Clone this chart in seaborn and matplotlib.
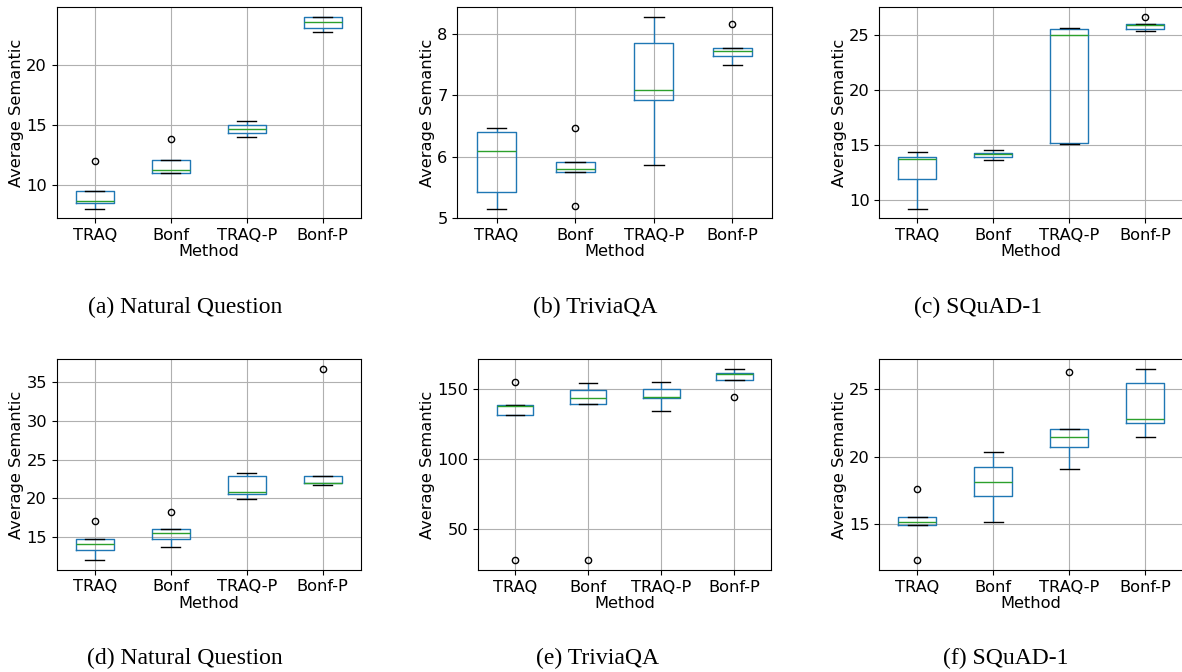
import matplotlib
matplotlib.use('Agg')
import matplotlib.pyplot as plt
import pandas as pd
import seaborn as sns

# methods on the x axis
methods = ['TRAQ', 'Bonf', 'TRAQ-P', 'Bonf-P']

# average semantic set size per run, one list per method (TRAQ, Bonf, TRAQ-P, Bonf-P)
nq_top = [[8.0, 8.5, 8.65, 9.45, 12.0],
          [11.0, 11.02, 11.25, 12.05, 13.8],
          [13.95, 14.3, 14.67, 15.0, 15.3],
          [22.75, 23.1, 23.6, 23.97, 24.0]]
tqa_top = [[5.15, 5.43, 6.09, 6.40, 6.46],
           [5.2, 5.75, 5.79, 5.91, 6.46],
           [5.86, 6.92, 7.08, 7.86, 8.28],
           [7.49, 7.64, 7.72, 7.78, 8.17]]
squad_top = [[9.2, 11.9, 13.72, 13.9, 14.4],
             [13.63, 13.9, 14.2, 14.3, 14.55],
             [15.08, 15.17, 25.0, 25.6, 25.7],
             [25.35, 25.6, 25.9, 26.0, 26.68]]
nq_bot = [[12.0, 13.3, 14.1, 14.65, 17.1],
          [13.67, 14.7, 15.5, 16.05, 18.27],
          [19.87, 20.55, 20.75, 22.93, 23.3],
          [21.75, 21.93, 22.0, 22.93, 36.75]]
tqa_bot = [[27.6, 131.4, 137.3, 138.7, 154.6],
           [27.6, 139.2, 143.2, 149.4, 153.7],
           [133.8, 143.5, 144.0, 150.1, 154.6],
           [144.4, 156.1, 160.3, 161.3, 164.1]]
squad_bot = [[12.32, 14.95, 15.15, 15.52, 17.59],
             [15.2, 17.1, 18.15, 19.2, 20.37],
             [19.1, 20.74, 21.48, 22.04, 26.26],
             [21.45, 22.46, 22.76, 25.49, 26.5]]

captions = ['(a) Natural Question', '(b) TriviaQA', '(c) SQuAD-1',
            '(d) Natural Question', '(e) TriviaQA', '(f) SQuAD-1']


def to_frame(runs):
    rows = []
    for m, vals in zip(methods, runs):
        for v in vals:
            rows.append({'Method': m, 'Average Semantic': v})
    return pd.DataFrame(rows)


W, H = 1182, 672
fig = plt.figure(figsize=(W / 100, H / 100), dpi=100)
plt.rcParams['font.size'] = 11.7

# axes boxes in pixels: left, top, right, bottom
boxes = [(56.7, 7.3, 360.7, 218.3), (457.3, 7.3, 771.7, 218.3), (879.3, 7.3, 1183, 218.3),
         (56.7, 359.3, 360.7, 569.5), (478.3, 359.3, 771.0, 570.0), (879.3, 359.3, 1183, 570.0)]
cap_pos = [(185, 307), (595, 307), (978, 307), (185, 658), (598, 658), (1006, 658)]
panels = [nq_top, tqa_top, squad_top, nq_bot, tqa_bot, squad_bot]

for runs, (l, t, r, b), (cx, cy), cap in zip(panels, boxes, cap_pos, captions):
    ax = fig.add_axes([l / W, 1 - b / H, (r - l) / W, (b - t) / H])
    df = to_frame(runs)
    sns.boxplot(data=df, x='Method', y='Average Semantic', order=methods, ax=ax,
                width=0.5, fill=False, color='#1f77b4', linewidth=1,
                medianprops={'color': '#2ca02c'},
                capprops={'color': 'black'},
                flierprops={'marker': 'o', 'markerfacecolor': 'none',
                            'markeredgecolor': 'black', 'markersize': 4.5})
    ax.grid(True, color='#b0b0b0', linewidth=0.8)
    ax.set_axisbelow(True)
    ax.set_xlim(-0.5, 3.5)
    ax.set_xlabel('Method', fontsize=11.7, labelpad=1)
    ax.set_ylabel('Average Semantic', fontsize=11.7, labelpad=1.5)
    ax.tick_params(labelsize=11.7)
    fig.text(cx / W, 1 - cy / H, cap, ha='center', va='center',
             family='Liberation Serif', fontsize=17)

fig.savefig('out.png', dpi=100)
